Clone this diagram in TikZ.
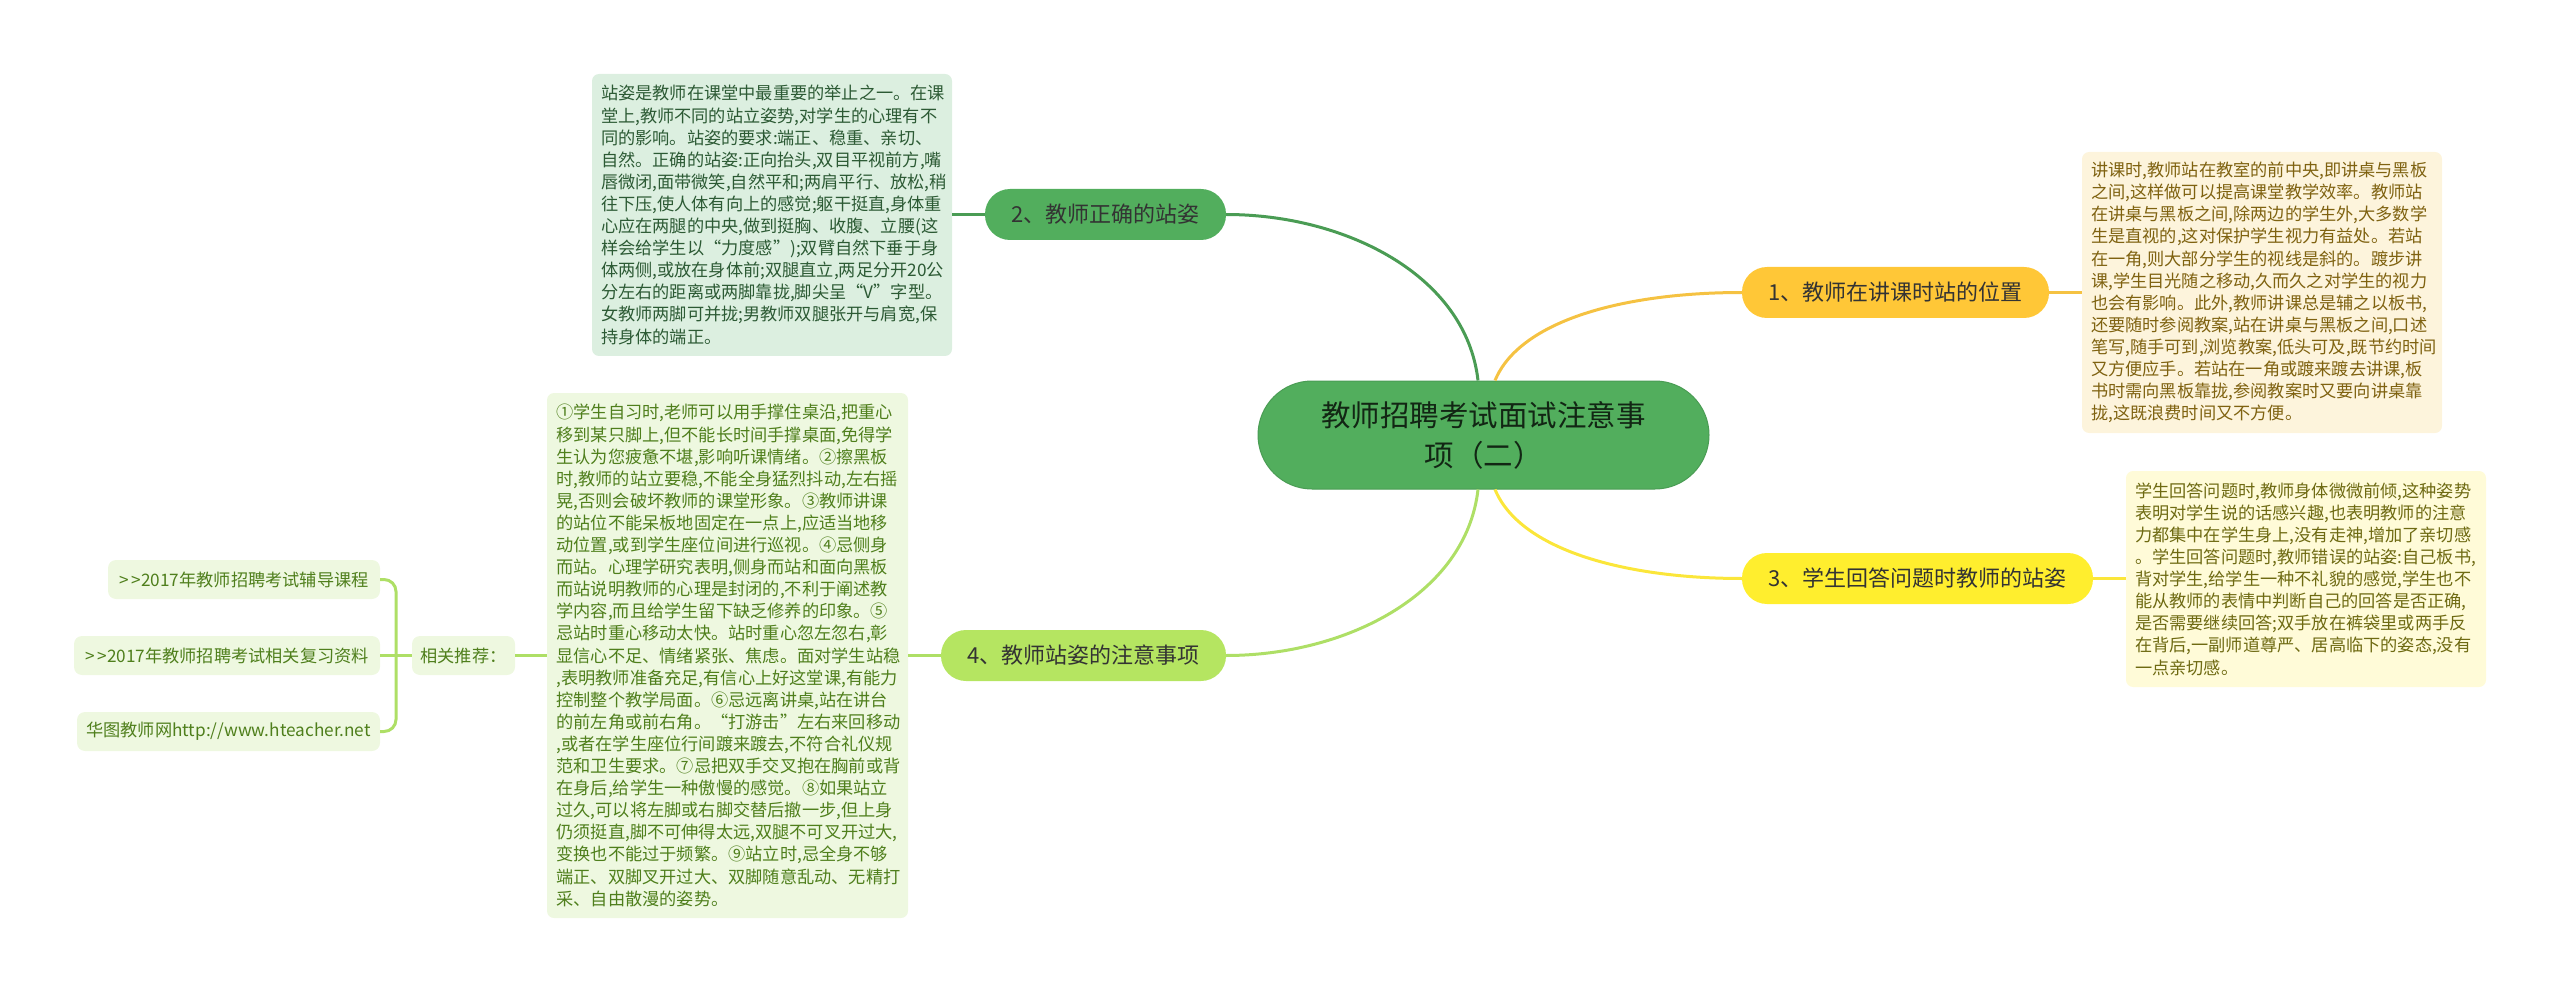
\documentclass[tikz,border=0pt]{standalone}
\usepackage{fontspec}
\setmainfont{Noto Sans CJK SC}
\definecolor{cRoot}{HTML}{52AE5D}
\definecolor{cRootB}{HTML}{4A9C54}
\definecolor{cLime}{HTML}{B5E561}
\definecolor{cAmber}{HTML}{FFC737}
\definecolor{cYellow}{HTML}{FFEE2E}
\definecolor{cLinkLime}{HTML}{AEDF66}
\definecolor{cLineAmber}{HTML}{F5C242}
\definecolor{cLineYellow}{HTML}{FBE63A}
\definecolor{bgGreen}{HTML}{DCEFE0}
\definecolor{bgLime}{HTML}{EEF8E0}
\definecolor{bgAmber}{HTML}{FDF4DC}
\definecolor{bgYellow}{HTML}{FFFBD8}
\definecolor{txGreen}{HTML}{2C5A34}
\definecolor{txLime}{HTML}{4F7F1C}
\definecolor{txAmber}{HTML}{7F6210}
\definecolor{txYellow}{HTML}{6E6A12}
\tikzset{
  x=1pt,y=-1pt,
  rootnode/.style={fill=cRoot,draw=cRootB,line width=1pt,rounded corners=54pt,minimum width=451pt,minimum height=108pt,inner sep=0pt,align=center,text=black!78!cRoot,font=\fontsize{29.5}{40}\selectfont},
  topic/.style={rounded corners=25pt,minimum height=51pt,inner sep=0pt,align=center,text=black!80,font=\fontsize{22}{26}\selectfont},
  notebox/.style={rounded corners=7pt,inner sep=0pt,align=left,font=\fontsize{17.2}{22.1}\selectfont},
  linkbox/.style={fill=bgLime,text=txLime,rounded corners=8pt,minimum height=39pt,inner sep=0pt,align=center,font=\fontsize{17.2}{22}\selectfont},
  wire/.style={line width=3pt},
}
\begin{document}
\begin{tikzpicture}
\useasboundingbox (0,0) rectangle (2560,992);
\node[rootnode] (root) at (1483.5,435) {教师招聘考试面试注意事\\项（二）};
\node[topic,fill=cRoot,minimum width=241pt] (t2) at (1105.5,214.5) {2、教师正确的站姿};
\node[topic,fill=cLime,minimum width=285pt] (t4) at (1083.5,655.5) {4、教师站姿的注意事项};
\node[topic,fill=cAmber,minimum width=307pt] (t1) at (1895.5,292.5) {1、教师在讲课时站的位置};
\node[topic,fill=cYellow,minimum width=351pt] (t3) at (1917.5,578.5) {3、学生回答问题时教师的站姿};
\node[notebox,fill=bgGreen,text=txGreen,minimum width=360pt,minimum height=282pt,text width=342pt] (n2) at (772,215) {站姿是教师在课堂中最重要的举止之一。在课\\堂上,教师不同的站立姿势,对学生的心理有不\\同的影响。站姿的要求:端正、稳重、亲切、\\自然。正确的站姿:正向抬头,双目平视前方,嘴\\唇微闭,面带微笑,自然平和;两肩平行、放松,稍\\往下压,使人体有向上的感觉;躯干挺直,身体重\\心应在两腿的中央,做到挺胸、收腹、立腰(这\\样会给学生以“力度感”);双臂自然下垂于身\\体两侧,或放在身体前;双腿直立,两足分开20公\\分左右的距离或两脚靠拢,脚尖呈“V”字型。\\女教师两脚可并拢;男教师双腿张开与肩宽,保\\持身体的端正。};
\node[notebox,fill=bgLime,text=txLime,minimum width=361pt,minimum height=525pt,text width=342pt] (n4) at (727.5,655.5) {①学生自习时,老师可以用手撑住桌沿,把重心\\移到某只脚上,但不能长时间手撑桌面,免得学\\生认为您疲惫不堪,影响听课情绪。②擦黑板\\时,教师的站立要稳,不能全身猛烈抖动,左右摇\\晃,否则会破坏教师的课堂形象。③教师讲课\\的站位不能呆板地固定在一点上,应适当地移\\动位置,或到学生座位间进行巡视。④忌侧身\\而站。心理学研究表明,侧身而站和面向黑板\\而站说明教师的心理是封闭的,不利于阐述教\\学内容,而且给学生留下缺乏修养的印象。⑤\\忌站时重心移动太快。站时重心忽左忽右,彰\\显信心不足、情绪紧张、焦虑。面对学生站稳\\,表明教师准备充足,有信心上好这堂课,有能力\\控制整个教学局面。⑥忌远离讲桌,站在讲台\\的前左角或前右角。“打游击”左右来回移动\\,或者在学生座位行间踱来踱去,不符合礼仪规\\范和卫生要求。⑦忌把双手交叉抱在胸前或背\\在身后,给学生一种傲慢的感觉。⑧如果站立\\过久,可以将左脚或右脚交替后撤一步,但上身\\仍须挺直,脚不可伸得太远,双腿不可叉开过大,\\变换也不能过于频繁。⑨站立时,忌全身不够\\端正、双脚叉开过大、双脚随意乱动、无精打\\采、自由散漫的姿势。};
\node[notebox,fill=bgAmber,text=txAmber,minimum width=360pt,minimum height=281pt,text width=342pt] (n1) at (2262,292.5) {讲课时,教师站在教室的前中央,即讲桌与黑板\\之间,这样做可以提高课堂教学效率。教师站\\在讲桌与黑板之间,除两边的学生外,大多数学\\生是直视的,这对保护学生视力有益处。若站\\在一角,则大部分学生的视线是斜的。踱步讲\\课,学生目光随之移动,久而久之对学生的视力\\也会有影响。此外,教师讲课总是辅之以板书,\\还要随时参阅教案,站在讲桌与黑板之间,口述\\笔写,随手可到,浏览教案,低头可及,既节约时间\\又方便应手。若站在一角或踱来踱去讲课,板\\书时需向黑板靠拢,参阅教案时又要向讲桌靠\\拢,这既浪费时间又不方便。};
\node[notebox,fill=bgYellow,text=txYellow,minimum width=360pt,minimum height=216pt,text width=342pt] (n3) at (2306,579) {学生回答问题时,教师身体微微前倾,这种姿势\\表明对学生说的话感兴趣,也表明教师的注意\\力都集中在学生身上,没有走神,增加了亲切感\\。学生回答问题时,教师错误的站姿:自己板书,\\背对学生,给学生一种不礼貌的感觉,学生也不\\能从教师的表情中判断自己的回答是否正确,\\是否需要继续回答;双手放在裤袋里或两手反\\在背后,一副师道尊严、居高临下的姿态,没有\\一点亲切感。};
\node[linkbox,minimum width=103pt] (rec) at (463.5,655.5) {相关推荐：};
\node[linkbox,minimum width=272pt] (l1) at (244,579.5) {>\kern3pt>2017年教师招聘考试辅导课程};
\node[linkbox,minimum width=306pt] (l2) at (227,655.5) {>\kern3pt>2017年教师招聘考试相关复习资料};
\node[linkbox,minimum width=303pt] (l3) at (228.5,731.5) {华图教师网http://www.hteacher.net};
\coordinate (bTop) at (396,579.5);
\coordinate (bBot) at (396,731.5);
% root to topics
\draw[wire,cRootB] ([xshift=-5.5]root.north) .. controls (1466,275) and (1345,214.5) .. (t2.east);
\draw[wire,cLinkLime] ([xshift=-5.5]root.south) .. controls (1466,595) and (1345,655.5) .. (t4.east);
\draw[wire,cLineAmber] ([xshift=11.5]root.north) .. controls (1520,320) and (1625,292.5) .. (t1.west);
\draw[wire,cLineYellow] ([xshift=11.5]root.south) .. controls (1520,550) and (1625,578.5) .. (t3.west);
% topics to notes
\draw[wire,cRootB] (t2.west) -- (t2.west -| n2.east);
\draw[wire,cLinkLime] (t4.west) -- (t4.west -| n4.east);
\draw[wire,cLineAmber] (t1.east) -- (t1.east -| n1.west);
\draw[wire,cLineYellow] (t3.east) -- (t3.east -| n3.west);
% related links
\draw[wire,cLinkLime] (n4.west |- rec.east) -- (rec.east);
\draw[wire,cLinkLime] (rec.west) -- (l2.east);
\draw[wire,cLinkLime,rounded corners=12pt] (l1.east) -- (bTop) -- (bBot) -- (l3.east);
\end{tikzpicture}
\end{document}
